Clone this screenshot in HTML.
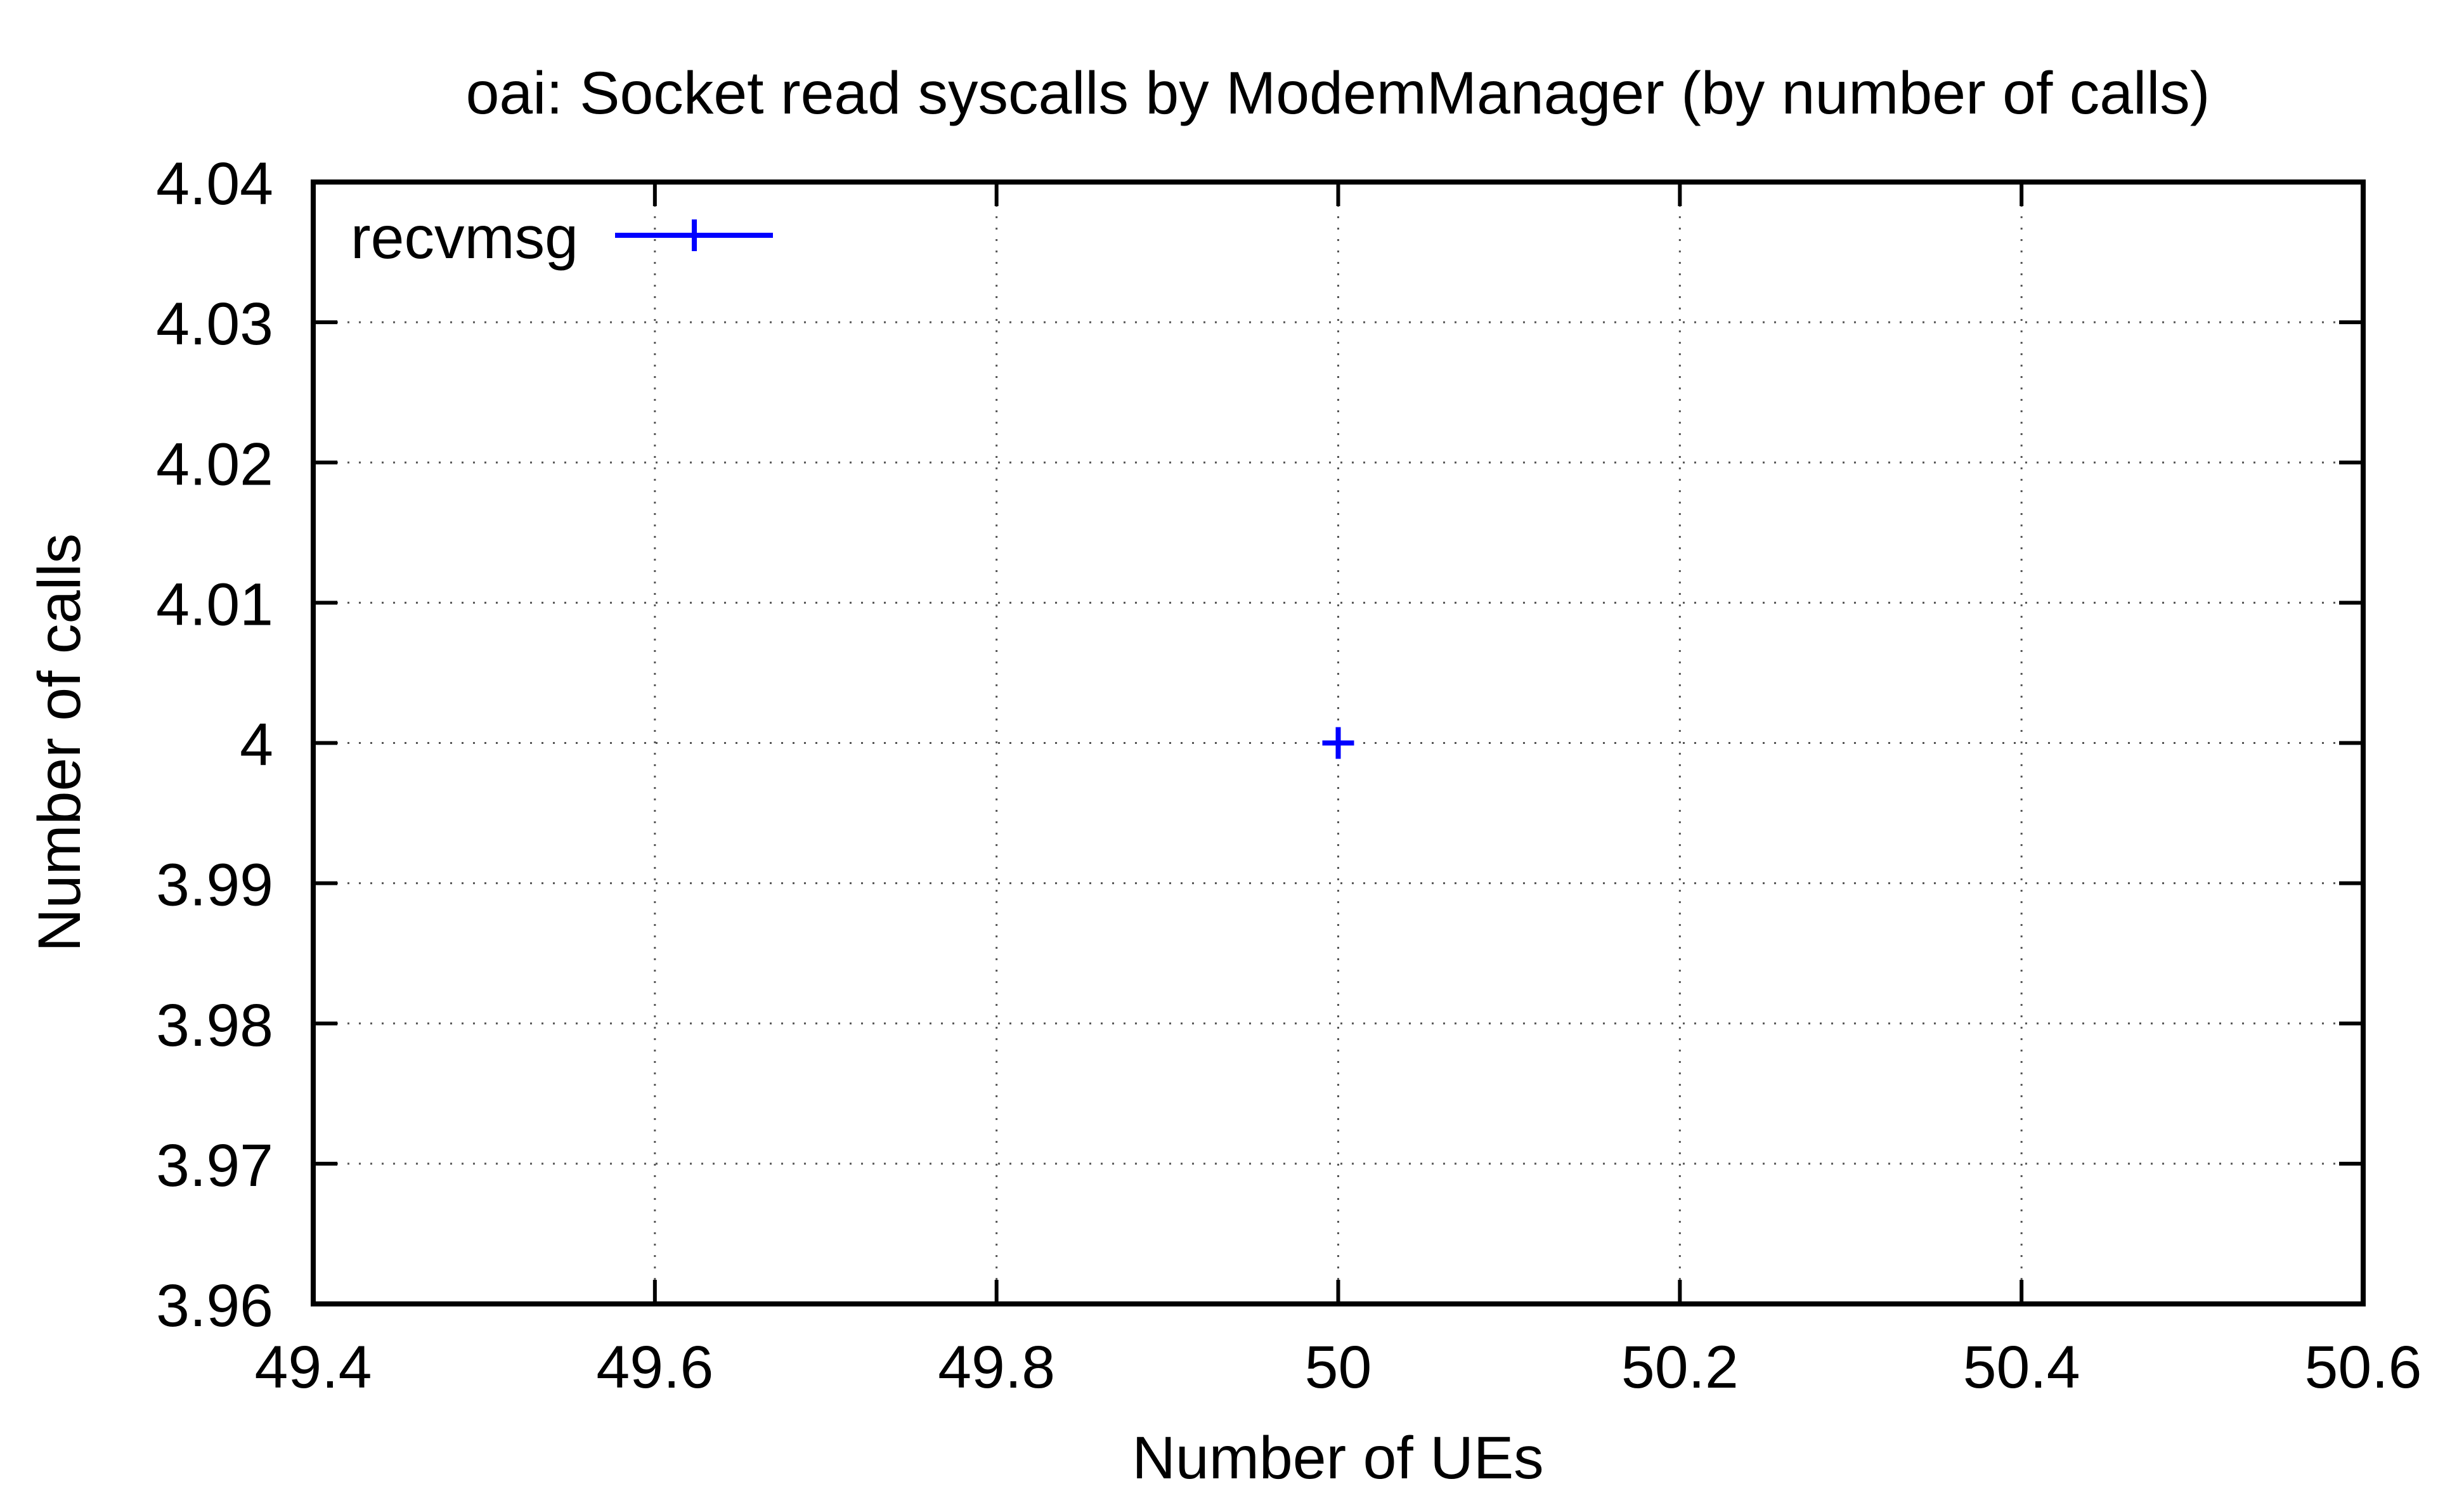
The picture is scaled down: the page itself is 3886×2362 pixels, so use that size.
<!DOCTYPE html>
<html><head><meta charset="utf-8"><style>
html,body{margin:0;padding:0;background:#fff;}
svg{display:block;font-family:"Liberation Sans",Arial,sans-serif;}
</style></head><body>
<svg id="chart" width="3886" height="2362" viewBox="0 0 3886 2362" xmlns="http://www.w3.org/2000/svg">
<rect width="3886" height="2362" fill="#fff"/>
<g id="grid"></g>
<g id="ticks"></g>
<g id="labels"></g>
<g id="series"></g>
<rect x="494" y="287" width="3233" height="1769" fill="none" stroke="#000" stroke-width="8"/>
<text x="2110" y="179" font-size="95" text-anchor="middle">oai: Socket read syscalls by ModemManager (by number of calls)</text>
<text x="2110" y="2331" font-size="95" text-anchor="middle">Number of UEs</text>
<text transform="translate(126,1171) rotate(-90)" font-size="95" text-anchor="middle">Number of calls</text>
<g>
<text x="912" y="407" font-size="95" text-anchor="end">recvmsg</text>
<line x1="970" y1="371" x2="1219" y2="371" stroke="#0000ff" stroke-width="8"/>
<line x1="1095" y1="346" x2="1095" y2="396" stroke="#0000ff" stroke-width="8"/>
</g>
</svg>
<script>
const xTicks = [49.4, 49.6, 49.8, 50, 50.2, 50.4, 50.6];
const xTickLabels = ["49.4", "49.6", "49.8", "50", "50.2", "50.4", "50.6"];
const yTicks = [3.96, 3.97, 3.98, 3.99, 4, 4.01, 4.02, 4.03, 4.04];
const yTickLabels = ["3.96", "3.97", "3.98", "3.99", "4", "4.01", "4.02", "4.03", "4.04"];
const seriesX = [50];
const seriesY = [4];

const L = 494, R = 3727, T = 287, B = 2056;
const xMin = 49.4, xMax = 50.6, yMin = 3.96, yMax = 4.04;
function sx(v){ return L + (v - xMin) / (xMax - xMin) * (R - L); }
function sy(v){ return B - (v - yMin) / (yMax - yMin) * (B - T); }
const NS = "http://www.w3.org/2000/svg";
function mk(tag, attrs, parent){
  const el = document.createElementNS(NS, tag);
  for (const k in attrs) el.setAttribute(k, attrs[k]);
  parent.appendChild(el);
  return el;
}
const grid = document.getElementById('grid');
const ticks = document.getElementById('ticks');
const labels = document.getElementById('labels');
const series = document.getElementById('series');
const gridStyle = {stroke:'#555', 'stroke-width':3, 'stroke-dasharray':'3 15'};

xTicks.forEach((v, i) => {
  const x = sx(v);
  if (i > 0 && i < xTicks.length - 1) {
    const g = mk('line', Object.assign({x1:x, y1:T, x2:x, y2:B}, gridStyle), grid);
    
    
  }
  const t1 = mk('line', {x1:x, y1:B, x2:x, y2:B-38, stroke:'#000', 'stroke-width':6}, ticks);
  
  
  const t2 = mk('line', {x1:x, y1:T, x2:x, y2:T+38, stroke:'#000', 'stroke-width':6}, ticks);
  
  
  const tx = mk('text', {x:x, y:2188, 'font-size':95, 'text-anchor':'middle'}, labels);
  tx.textContent = xTickLabels[i];
  
  
});

yTicks.forEach((v, i) => {
  const y = sy(v);
  if (i > 0 && i < yTicks.length - 1) {
    const g = mk('line', Object.assign({x1:L, y1:y, x2:R, y2:y}, gridStyle), grid);
    
    
  }
  const t1 = mk('line', {x1:L, y1:y, x2:L+38, y2:y, stroke:'#000', 'stroke-width':6}, ticks);
  
  
  const t2 = mk('line', {x1:R, y1:y, x2:R-38, y2:y, stroke:'#000', 'stroke-width':6}, ticks);
  
  
  const tx = mk('text', {x:431, y:y+35, 'font-size':95, 'text-anchor':'end'}, labels);
  tx.textContent = yTickLabels[i];
  
  
});

seriesX.forEach((v, i) => {
  const x = sx(v), y = sy(seriesY[i]);
  const p = mk('path', {d:`M${x-25},${y}H${x+25}M${x},${y-25}V${y+25}`, stroke:'#0000ff', 'stroke-width':8, fill:'none'}, series);
  
  
});
</script>
</body></html>
